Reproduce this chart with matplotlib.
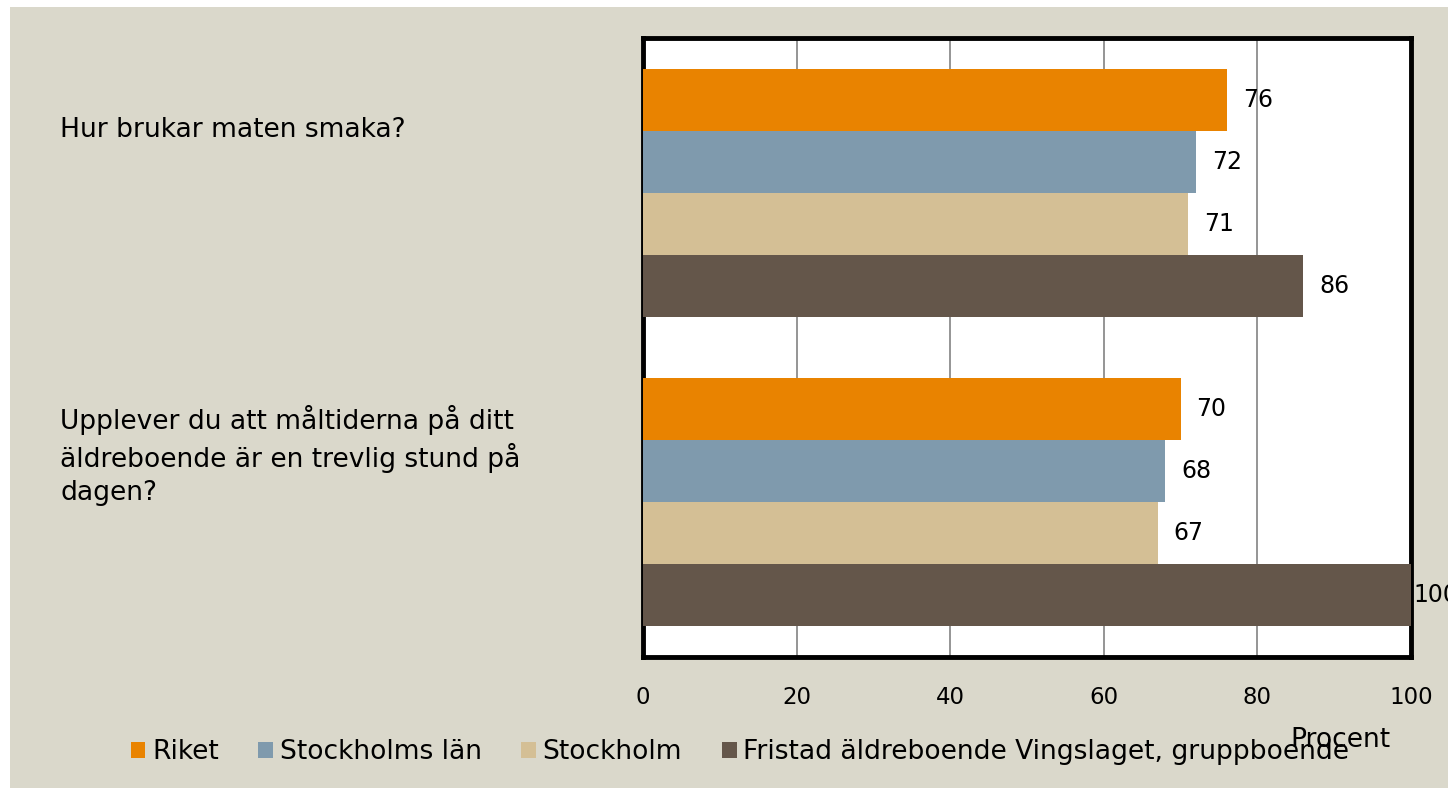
import matplotlib
matplotlib.use("Agg")
import matplotlib.pyplot as plt
from matplotlib.patches import Rectangle
from matplotlib.transforms import blended_transform_factory
import numpy as np

categories = [
    "Hur brukar maten smaka?",
    "Upplever du att måltiderna på ditt\näldreboende är en trevlig stund på\ndagen?",
]
series_names = ["Riket", "Stockholms län", "Stockholm",
                "Fristad äldreboende Vingslaget, gruppboende"]
riket = [76, 70]
stockholms_lan = [72, 68]
stockholm = [71, 67]
fristad = [86, 100]
series_values = [riket, stockholms_lan, stockholm, fristad]
x_ticks = [0, 20, 40, 60, 80, 100]
x_label = "Procent"

colors = ["#E98300", "#7F9AAD", "#D4BF95", "#64564A"]
bg = "#DAD8CB"
FS_TXT = 19.1
FS_NUM = 16.5
plt.rcParams['font.family'] = ['DejaVu Sans']

W, H = 1448, 788
fig = plt.figure(figsize=(W / 100, H / 100), dpi=100, facecolor="white")
fig.patches.append(Rectangle((10 / W, 0), 1 - 10 / W, (H - 7) / H,
                             transform=fig.transFigure, facecolor=bg,
                             edgecolor="none", zorder=-10))

ax = fig.add_axes([643 / W, (H - 657) / H, (1411 - 643) / W, (657 - 38) / H])
ax.set_facecolor("white")
xmax = x_ticks[-1]

y = np.arange(len(categories))
bh = 0.2
offsets = [-0.3, -0.1, 0.1, 0.3]
for vals, name, col, off in zip(series_values, series_names, colors, offsets):
    bars = ax.barh(y + off, vals, height=bh, color=col, label=name,
                   zorder=3, linewidth=0)
    for b, v in zip(bars, vals):
        dx = 16 if v < xmax else 2
        ax.annotate(f"{v}", xy=(b.get_width(), b.get_y() + b.get_height() / 2),
                    xytext=(dx, 0), textcoords="offset pixels",
                    ha="left", va="center", fontsize=FS_NUM + 0.5, color="black",
                    annotation_clip=False, zorder=5)

ax.set_xlim(0, xmax)
ax.set_ylim(len(categories) - 0.5, -0.5)
ax.set_xticks(x_ticks)
ax.set_xticklabels([str(t) for t in x_ticks], fontsize=FS_NUM)
ax.tick_params(axis="x", length=0, pad=21)
ax.set_yticks([])
ax.set_axisbelow(True)
ax.xaxis.grid(True, color="#8c8c8c", linewidth=1.3)
for s in ax.spines.values():
    s.set_linewidth(3.5)
    s.set_color("black")
    s.set_zorder(2.5)

trans = blended_transform_factory(fig.transFigure, ax.transData)
label_dy = [63, 47]
for i, (cat, dy) in enumerate(zip(categories, label_dy)):
    ax.annotate(cat, xy=(60 / W, i), xycoords=trans, xytext=(0, dy),
                textcoords="offset pixels", ha="left", va="center",
                fontsize=FS_TXT, linespacing=1.33, annotation_clip=False)

leg = fig.legend(loc="center", bbox_to_anchor=(0.511, (H - 752) / H), ncol=4,
                 frameon=False, fontsize=FS_TXT, handlelength=0.55,
                 handleheight=0.55, handletextpad=0.25, columnspacing=1.5,
                 borderaxespad=0)

ax.set_xlabel(x_label, fontsize=FS_TXT)
ax.xaxis.set_label_coords((1340 - 643) / 768, (657 - 740) / 619)
ax.xaxis.label.set_va("center")
ax.xaxis.label.set_zorder(10)

fig.savefig("out.png", dpi=100, facecolor=fig.get_facecolor())
